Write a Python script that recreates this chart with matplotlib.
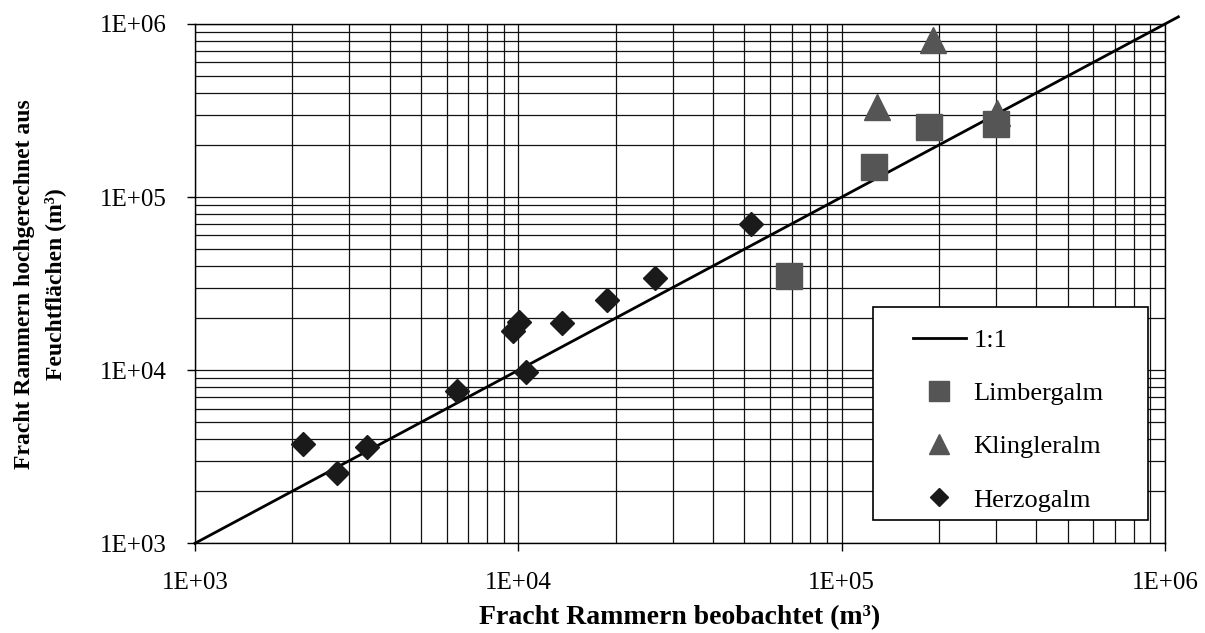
import matplotlib.pyplot as plt
from matplotlib.ticker import LogLocator, FuncFormatter, NullFormatter
from matplotlib.patches import Rectangle

plt.rcParams['font.family'] = ['Liberation Serif', 'DejaVu Serif']

# 1:1 Linie
line_x = [1e3, 1.1e6]
line_y = [1e3, 1.1e6]

# Limbergalm
limb_x = [68700, 126000, 186000, 300000]
limb_y = [35000, 150000, 255000, 264000]

# Klingleralm
kling_x = [128500, 191000, 302000]
kling_y = [333000, 809000, 305000]

# Herzogalm
herz_x = [2160, 2740, 3400, 6440, 9660, 10050, 10560, 13680, 18750, 26500, 52500]
herz_y = [3730, 2535, 3615, 7620, 16900, 19050, 9800, 18660, 25470, 33960, 69660]

fig = plt.figure(figsize=(12.05, 6.33), dpi=100)
ax = fig.add_axes([0.1618, 0.1417, 0.805, 0.8204])

ax.set_xscale('log')
ax.set_yscale('log')
ax.set_xlim(1e3, 1e6)
ax.set_ylim(1e3, 1e6)

ax.plot(line_x, line_y, color='black', lw=2, label='1:1', clip_on=False, zorder=3)
ax.plot(kling_x, kling_y, ls='none', marker='^', ms=18.5, color='#555555',
        label='Klingleralm', zorder=4)
ax.plot(limb_x, limb_y, ls='none', marker='s', ms=18.5, color='#555555',
        label='Limbergalm', zorder=5)
ax.plot(herz_x, herz_y, ls='none', marker='D', ms=12.5, color='#1a1a1a',
        label='Herzogalm', zorder=5)

for axis in (ax.xaxis, ax.yaxis):
    axis.set_major_locator(LogLocator(base=10))
    axis.set_minor_locator(LogLocator(base=10, subs=range(2, 10)))
    axis.set_major_formatter(FuncFormatter(lambda v, p: f"{v:.0E}"))
    axis.set_minor_formatter(NullFormatter())

ax.grid(which='both', color='#111111', lw=0.9)
ax.set_axisbelow(True)
ax.tick_params(which='major', direction='out', length=6, width=1, labelsize=18)
ax.tick_params(axis='x', which='major', pad=15)
ax.tick_params(axis='y', which='major', pad=14)
ax.tick_params(which='minor', length=0)
for s in ax.spines.values():
    s.set_color('black')
    s.set_linewidth(1)

ax.set_xlabel('Fracht Rammern beobachtet (m³)', fontsize=20, fontweight='bold', va='center')
ax.xaxis.set_label_coords(0.5, -0.144)
ax.set_ylabel('Fracht Rammern hochgerechnet aus\nFeuchtflächen (m³)', fontsize=17,
              fontweight='bold', va='center', linespacing=1.55)
ax.yaxis.set_label_coords(-0.160, 0.5)

# Legendenrahmen
ax.add_patch(Rectangle((0.699, 0.045), 0.2835, 0.41, transform=ax.transAxes,
                       facecolor='white', edgecolor='black', lw=1.2, zorder=6))
h, l = ax.get_legend_handles_labels()
order = [0, 2, 1, 3]
leg = ax.legend([h[i] for i in order], [l[i] for i in order],
                loc='upper left', bbox_to_anchor=(0.740, 0.414), frameon=False,
                fontsize=19, borderpad=0, borderaxespad=0, labelspacing=1.13,
                handlelength=2.0, handletextpad=0.3, markerscale=0.75)
leg.set_zorder(7)

fig.savefig('out.png', dpi=100)
